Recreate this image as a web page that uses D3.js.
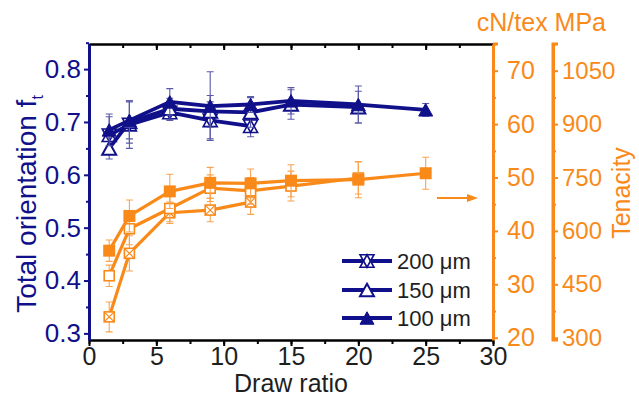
<!DOCTYPE html>
<html>
<head>
<meta charset="utf-8">
<script src="https://cdn.jsdelivr.net/npm/d3@7"></script>
<style>
  body { margin: 0; background: #fff; }
  svg { display: block; font-family: "Liberation Sans", Arial, sans-serif; }
</style>
</head>
<body>
<svg id="chart" width="639" height="403"></svg>
<script>
// Draw ratio for each fibre diameter
const drawRatio100 = [1.5, 3, 6, 9, 12, 15, 20, 25];
const drawRatio150 = [1.5, 3, 6, 9, 12, 15, 20];
const drawRatio200 = [1.5, 3, 6, 9, 12];

// Total orientation f_t and its error
const orient100 = [0.685, 0.703, 0.738, 0.730, 0.733, 0.740, 0.733, 0.723];
const orientErr100 = [0.030, 0.035, 0.025, 0.065, 0.015, 0.025, 0.035, 0.012];
const orient150 = [0.650, 0.700, 0.725, 0.720, 0.718, 0.733, 0.728];
const orientErr150 = [0.020, 0.040, 0.020, 0.030, 0.028, 0.028, 0.030];
const orient200 = [0.675, 0.695, 0.718, 0.703, 0.692];
const orientErr200 = [0.035, 0.045, 0.015, 0.035, 0.020];

// Tenacity (cN/tex) and its error
const ten100 = [36.3, 42.8, 47.4, 49.0, 48.9, 49.4, 49.6, 50.8];
const tenErr100 = [2.0, 3.0, 3.2, 2.9, 2.7, 3.0, 3.4, 3.0];
const ten150 = [31.6, 40.4, 44.2, 48.0, 47.5, 48.4, 49.9];
const tenErr150 = [2.0, 3.0, 2.5, 2.5, 2.5, 2.8, 3.0];
const ten200 = [23.9, 35.8, 43.4, 43.9, 45.4];
const tenErr200 = [2.8, 3.3, 2.0, 2.2, 2.3];

// Tick labels
const xTicks = [0, 5, 10, 15, 20, 25, 30];
const orientTicks = [0.3, 0.4, 0.5, 0.6, 0.7, 0.8];
const tenTicks = [20, 30, 40, 50, 60, 70];
const mpaTicks = [300, 450, 600, 750, 900, 1050];
const legendLabels = ["200 \u03bcm", "150 \u03bcm", "100 \u03bcm"];

const NAVY = "#10108a";
const ORANGE = "#f98a1a";
const TEXT = "#1e1e1e";
const TICK_FS = 25;

const svg = d3.select("#chart");
const L = 89, R = 493, T = 44, B = 340;

const x = d3.scaleLinear().domain([0, 30]).range([L, R]);
const yO = d3.scaleLinear().domain([0.2875, 0.8475]).range([B, T]);
const yT = d3.scaleLinear().domain([19.57, 75]).range([B, T]);
const yM = d3.scaleLinear().domain([19.57 * 15, 75 * 15]).range([B, T]);

const minor = (a, b, s) => d3.range(a, b + 1e-9, s);

// ---- axes ----
function styleAxis(g, color, width, fs) {
  g.select(".domain").attr("stroke", color).attr("stroke-width", width);
  g.selectAll(".tick line").attr("stroke", color).attr("stroke-width", 2);
  g.selectAll(".tick text").attr("fill", color).attr("font-size", fs || TICK_FS);
}

// bottom x axis: outward ticks
const xMinor = minor(0, 30, 2.5);
svg.append("g").attr("transform", `translate(0,${B})`)
  .call(d3.axisBottom(x).tickValues(xMinor).tickSize(4).tickFormat(""))
  .call(g => { g.select(".domain").remove(); g.selectAll("line").attr("stroke", "#000").attr("stroke-width", 2); });
const xAx = svg.append("g").attr("transform", `translate(0,${B})`)
  .call(d3.axisBottom(x).tickValues(xTicks).tickSize(6).tickSizeOuter(0).tickPadding(1).tickFormat(d3.format("d")));
styleAxis(xAx, "#000", 2.5);
xAx.selectAll(".tick text").attr("fill", TEXT);

// top x axis: inward ticks
svg.append("g").attr("transform", `translate(0,${T})`)
  .call(d3.axisTop(x).tickValues(xMinor).tickSize(-4).tickSizeOuter(0).tickFormat(""))
  .call(g => { g.select(".domain").attr("stroke", "#000").attr("stroke-width", 2.5);
               g.selectAll("line").attr("stroke", "#000").attr("stroke-width", 2); });
svg.append("g").attr("transform", `translate(0,${T})`)
  .call(d3.axisTop(x).tickValues(xTicks).tickSize(-6).tickFormat(""))
  .call(g => { g.select(".domain").remove(); g.selectAll("line").attr("stroke", "#000").attr("stroke-width", 2); });

// left axis (orientation)
svg.append("g").attr("transform", `translate(${L},0)`)
  .call(d3.axisLeft(yO).tickValues(minor(0.35, 0.85, 0.1)).tickSize(3).tickFormat(""))
  .call(g => { g.select(".domain").remove(); g.selectAll("line").attr("stroke", NAVY).attr("stroke-width", 2); });
const yOAx = svg.append("g").attr("transform", `translate(${L},0)`)
  .call(d3.axisLeft(yO).tickValues(orientTicks).tickSize(5).tickSizeOuter(0).tickPadding(3).tickFormat(d3.format(".1f")));
styleAxis(yOAx, NAVY, 3, 26);

// right axis 1 (cN/tex)
svg.append("g").attr("transform", `translate(${R},0)`)
  .call(d3.axisRight(yT).tickValues(minor(25, 75, 10)).tickSize(3).tickFormat(""))
  .call(g => { g.select(".domain").remove(); g.selectAll("line").attr("stroke", ORANGE).attr("stroke-width", 2); });
const yTAx = svg.append("g").attr("transform", `translate(${R},0)`)
  .call(d3.axisRight(yT).tickValues(tenTicks).tickSize(5).tickSizeOuter(0).tickPadding(9));
styleAxis(yTAx, ORANGE, 3);

// right axis 2 (MPa)
const R2 = 553;
svg.append("g").attr("transform", `translate(${R2},0)`)
  .call(d3.axisRight(yM).tickValues(minor(375, 1125, 150)).tickSize(3).tickFormat(""))
  .call(g => { g.select(".domain").remove(); g.selectAll("line").attr("stroke", ORANGE).attr("stroke-width", 2); });
const yMAx = svg.append("g").attr("transform", `translate(${R2},0)`)
  .call(d3.axisRight(yM).tickValues(mpaTicks).tickSize(5).tickSizeOuter(0).tickPadding(4).tickFormat(d3.format("d")));
styleAxis(yMAx, ORANGE, 3, 24);
// bracket ends at the top and bottom of the MPa axis
svg.append("path").attr("d", `M${R2 + 5},${T}H${R2}V${B}H${R2 + 5}`)
  .attr("fill", "none").attr("stroke", ORANGE).attr("stroke-width", 3);
svg.append("path").attr("d", `M${R + 5},${T}H${R}`)
  .attr("fill", "none").attr("stroke", ORANGE).attr("stroke-width", 3);

// axis titles
svg.append("text").attr("x", 291).attr("y", 392).attr("text-anchor", "middle")
  .attr("font-size", 25).attr("fill", TEXT).text("Draw ratio");
const ft = svg.append("text").attr("transform", "translate(36,204) rotate(-90)")
  .attr("text-anchor", "middle").attr("font-size", 28).attr("fill", NAVY);
ft.append("tspan").text("Total orientation f");
ft.append("tspan").attr("font-size", 16).attr("dy", 7).text("t");
svg.append("text").attr("x", 606).attr("y", 31).attr("text-anchor", "end")
  .attr("font-size", 25).attr("fill", ORANGE).text("cN/tex MPa");
svg.append("text").attr("transform", "translate(630,193) rotate(-90)")
  .attr("text-anchor", "middle").attr("font-size", 25).attr("fill", ORANGE).text("Tenacity");

// ---- markers ----
const TW = 14, TH = 12.5;
const triUpPath = `M0,${-TH / 2}L${TW / 2},${TH / 2}L${-TW / 2},${TH / 2}Z`;
const triDownPath = `M${-TW / 2},${-TH / 2}L${TW / 2},${-TH / 2}L0,${TH / 2}Z`;
function drawMarker(g, kind, color) {
  if (kind === "triFill") {
    g.append("path").attr("d", triUpPath).attr("fill", color).attr("stroke", color).attr("stroke-width", 1);
  } else if (kind === "triOpen") {
    g.append("path").attr("d", triUpPath).attr("fill", "#fff").attr("stroke", color).attr("stroke-width", 2);
  } else if (kind === "triCross") {
    g.append("path").attr("d", triUpPath).attr("fill", "#fff").attr("stroke", color).attr("stroke-width", 1.6);
    g.append("path").attr("d", triDownPath).attr("fill", "none").attr("stroke", color).attr("stroke-width", 1.6);
  } else if (kind === "sqFill") {
    g.append("rect").attr("x", -6).attr("y", -6).attr("width", 12).attr("height", 12).attr("fill", color);
  } else if (kind === "sqOpen") {
    g.append("rect").attr("x", -5).attr("y", -5).attr("width", 10).attr("height", 10).attr("fill", "#fff").attr("stroke", color).attr("stroke-width", 1.6);
  } else if (kind === "sqCross") {
    g.append("rect").attr("x", -5).attr("y", -5).attr("width", 10).attr("height", 10).attr("fill", "#fff").attr("stroke", color).attr("stroke-width", 1.6);
    g.append("path").attr("d", "M-5,-5L5,5M5,-5L-5,5").attr("stroke", color).attr("stroke-width", 1.2);
  }
}

function drawSeries(xs, ys, errs, yScale, color, kind, lineW, errColor) {
  const pts = xs.map((d, i) => ({ x: d, y: ys[i], e: errs[i] }));
  const g = svg.append("g");
  const eb = g.append("g").attr("stroke", errColor).attr("stroke-width", 1.1).attr("fill", "none");
  pts.forEach(p => {
    const cx = x(p.x), y1 = yScale(p.y + p.e), y2 = yScale(p.y - p.e);
    eb.append("path").attr("d", `M${cx},${y1}V${y2}M${cx - 3.5},${y1}H${cx + 3.5}M${cx - 3.5},${y2}H${cx + 3.5}`);
  });
  g.append("path").datum(pts)
    .attr("d", d3.line().x(p => x(p.x)).y(p => yScale(p.y)))
    .attr("fill", "none").attr("stroke", color).attr("stroke-width", lineW).attr("stroke-linejoin", "round");
  pts.forEach(p => drawMarker(g.append("g").attr("transform", `translate(${x(p.x)},${yScale(p.y)})`), kind, color));
}

const ERR_N = "#5a5aa8", ERR_O = "#f9a450";
// tenacity curves
drawSeries(drawRatio200, ten200, tenErr200, yT, ORANGE, "sqCross", 3.2, ERR_O);
drawSeries(drawRatio150, ten150, tenErr150, yT, ORANGE, "sqOpen", 3.2, ERR_O);
drawSeries(drawRatio100, ten100, tenErr100, yT, ORANGE, "sqFill", 3.2, ERR_O);
// orientation curves
drawSeries(drawRatio200, orient200, orientErr200, yO, NAVY, "triCross", 3.8, ERR_N);
drawSeries(drawRatio150, orient150, orientErr150, yO, NAVY, "triOpen", 3.8, ERR_N);
drawSeries(drawRatio100, orient100, orientErr100, yO, NAVY, "triFill", 3.8, ERR_N);

// arrow pointing at the tenacity axis
svg.append("line").attr("x1", 437).attr("x2", 470).attr("y1", 198).attr("y2", 198)
  .attr("stroke", ORANGE).attr("stroke-width", 2);
svg.append("path").attr("d", "M478,198L467,194L467,202Z").attr("fill", ORANGE);

// legend
const legKinds = ["triCross", "triOpen", "triFill"];
const legY = [261, 290, 318];
legendLabels.forEach((lab, i) => {
  const g = svg.append("g").attr("transform", `translate(0,${legY[i]})`);
  g.append("line").attr("x1", 342).attr("x2", 392).attr("stroke", NAVY).attr("stroke-width", 3.8);
  drawMarker(g.append("g").attr("transform", "translate(367,0)"), legKinds[i], NAVY);
  g.append("text").attr("x", 397).attr("y", 8).attr("font-size", 22).attr("fill", TEXT).text(lab);
});
</script>
</body>
</html>
